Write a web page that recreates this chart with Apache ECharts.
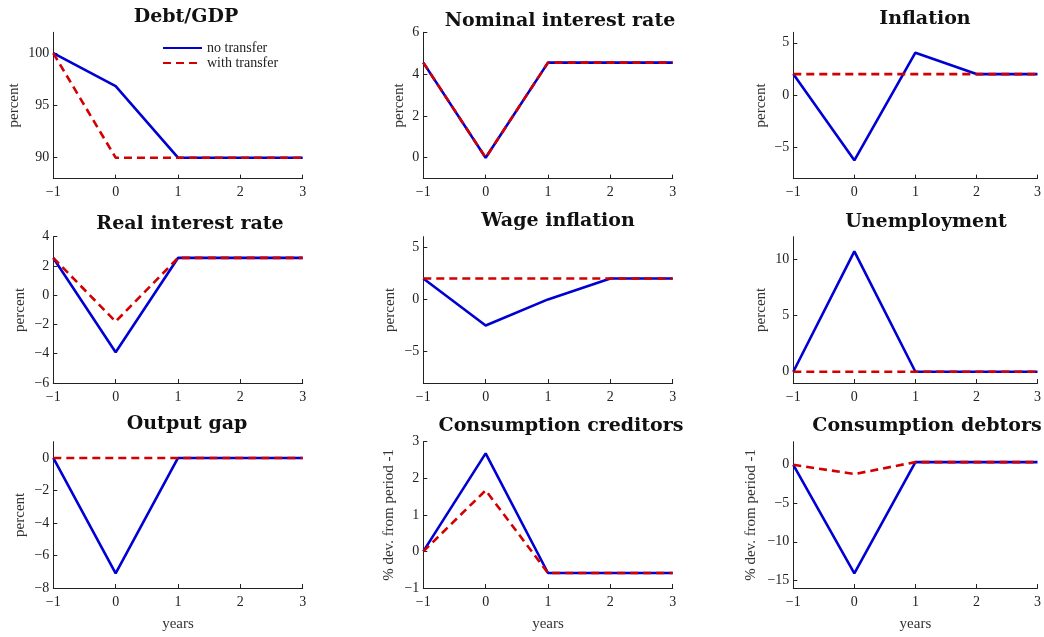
<!DOCTYPE html>
<html>
<head>
<meta charset="utf-8">
<script src="https://cdn.jsdelivr.net/npm/echarts@6/dist/echarts.min.js"></script>
<style>
  html, body { margin: 0; padding: 0; background: #fff; }
  #chart { width: 1044px; height: 637px; }
</style>
</head>
<body>
<div id="chart"></div>
<script>
// Horizon (years after the shock)
const years = [-1, 0, 1, 2, 3];

// Panel titles, row by row
const titles = [
  'Debt/GDP', 'Nominal interest rate', 'Inflation',
  'Real interest rate', 'Wage inflation', 'Unemployment',
  'Output gap', 'Consumption creditors', 'Consumption debtors'
];

// Y-axis names
const yNames = [
  'percent', 'percent', 'percent',
  'percent', 'percent', 'percent',
  'percent', '% dev. from period -1', '% dev. from period -1'
];

// Series names
const seriesNames = ['no transfer', 'with transfer'];

// Responses without transfer
const debtNo        = [100, 96.85, 90, 90, 90];
const nominalNo     = [4.55, 0, 4.55, 4.55, 4.55];
const inflationNo   = [2, -6.25, 4.05, 2, 2];
const realRateNo    = [2.55, -3.9, 2.55, 2.55, 2.55];
const wageInflNo    = [2, -2.5, 0, 2, 2];
const unemployNo    = [0, 10.7, 0, 0, 0];
const outputGapNo   = [0, -7.1, 0, 0, 0];
const consCredNo    = [0, 2.68, -0.59, -0.59, -0.59];
const consDebtNo    = [0, -14.1, 0.35, 0.35, 0.35];

// Responses with transfer
const debtWith      = [100, 90, 90, 90, 90];
const nominalWith   = [4.55, 0, 4.55, 4.55, 4.55];
const inflationWith = [2, 2, 2, 2, 2];
const realRateWith  = [2.55, -1.8, 2.55, 2.55, 2.55];
const wageInflWith  = [2, 2, 2, 2, 2];
const unemployWith  = [0, 0, 0, 0, 0];
const outputGapWith = [0, 0, 0, 0, 0];
const consCredWith  = [0, 1.67, -0.59, -0.59, -0.59];
const consDebtWith  = [0, -1.2, 0.35, 0.35, 0.35];

// X tick labels
const xTicks = [-1, 0, 1, 2, 3];

// Y-axis ranges and tick values per panel
const yMin   = [88, -1, -8, -6, -8, -1, -8, -1, -16];
const yMax   = [102, 6, 6, 4, 6, 12, 1, 3, 3];
const yTicks = [
  [90, 95, 100], [0, 2, 4, 6], [-5, 0, 5],
  [-6, -4, -2, 0, 2, 4], [-5, 0, 5], [0, 5, 10],
  [-8, -6, -4, -2, 0], [-1, 0, 1, 2, 3], [-15, -10, -5, 0]
];

const noTransfer   = [debtNo, nominalNo, inflationNo, realRateNo, wageInflNo, unemployNo, outputGapNo, consCredNo, consDebtNo];
const withTransfer = [debtWith, nominalWith, inflationWith, realRateWith, wageInflWith, unemployWith, outputGapWith, consCredWith, consDebtWith];

// Layout
const colLeft = [53.3, 423.3, 793.3];
const rowTop  = [32.3, 236.7, 441.7];
const plotW = 249.4, plotH = 146.3;
const titleX   = [181, 555, 920, 185, 553, 921, 182, 556, 922];
const titleTop = [2.5, 6.5, 5, 210, 206.5, 208, 410, 411.5, 411.5];
const yNameGap = [32, 17, 25, 26, 26, 25, 26, 27, 35];

const BLUE = '#0000d2';
const RED = '#d20000';
const INK = '#222';
const SERIF = '"Liberation Serif", "DejaVu Serif", serif';

const fmt = v => (v < 0 ? '\u2212' + Math.abs(v) : String(v));
const zip = arr => years.map((x, i) => [x, arr[i]]);

const grid = [], xAxis = [], yAxis = [], series = [], title = [];

titles.forEach((t, k) => {
  const r = Math.floor(k / 3), c = k % 3;
  grid.push({ left: colLeft[c], top: rowTop[r], width: plotW, height: plotH, containLabel: false });
  title.push({
    text: t, left: titleX[k], top: titleTop[k], textAlign: 'center',
    textStyle: { fontFamily: '"DejaVu Serif", serif', fontWeight: 'bold', fontSize: 19, color: '#111' }
  });
  xAxis.push({
    type: 'value', gridIndex: k, min: -1, max: 3, interval: 1,
    name: r === 2 ? 'years' : '', nameLocation: 'middle', nameGap: 29,
    nameTextStyle: { fontFamily: SERIF, fontSize: 15, color: '#333' },
    axisLine: { show: true, onZero: false, lineStyle: { color: INK, width: 1 } },
    axisTick: { show: true, inside: true, length: 4, lineStyle: { color: INK } },
    axisLabel: { fontFamily: SERIF, fontSize: 14, color: INK, margin: 7, formatter: fmt,
                 customValues: xTicks, showMinLabel: true, showMaxLabel: true },
    splitLine: { show: false }
  });
  yAxis.push({
    type: 'value', gridIndex: k, min: yMin[k], max: yMax[k],
    name: yNames[k], nameLocation: 'middle', nameGap: yNameGap[k], nameRotate: 90,
    nameTextStyle: { fontFamily: SERIF, fontSize: 15, color: '#333' },
    axisLine: { show: true, onZero: false, lineStyle: { color: INK, width: 1 } },
    axisTick: { show: true, inside: true, length: 4, lineStyle: { color: INK }, customValues: yTicks[k] },
    axisLabel: { fontFamily: SERIF, fontSize: 14, color: INK, margin: 4, formatter: fmt, customValues: yTicks[k] },
    splitLine: { show: false }
  });
  series.push({
    name: seriesNames[0], type: 'line', xAxisIndex: k, yAxisIndex: k,
    data: zip(noTransfer[k]), symbol: 'none', silent: true,
    lineStyle: { color: BLUE, width: 2.6 }, itemStyle: { color: BLUE }
  });
  series.push({
    name: seriesNames[1], type: 'line', xAxisIndex: k, yAxisIndex: k,
    data: zip(withTransfer[k]), symbol: 'none', silent: true,
    lineStyle: { color: RED, width: 2.6, type: [8, 5] }, itemStyle: { color: RED }
  });
});

const chart = echarts.init(document.getElementById('chart'), null, { renderer: 'canvas' });
chart.setOption({
  animation: false,
  backgroundColor: '#fff',
  title,
  legend: {
    data: seriesNames, orient: 'vertical', left: 157, top: 36,
    itemWidth: 39, itemHeight: 12, itemGap: 1,
    itemStyle: { color: 'rgba(0,0,0,0)', borderWidth: 0, opacity: 0 },
    textStyle: { fontFamily: SERIF, fontSize: 14, color: '#222' },
    selectedMode: false
  },
  grid, xAxis, yAxis, series
});
</script>
</body>
</html>
